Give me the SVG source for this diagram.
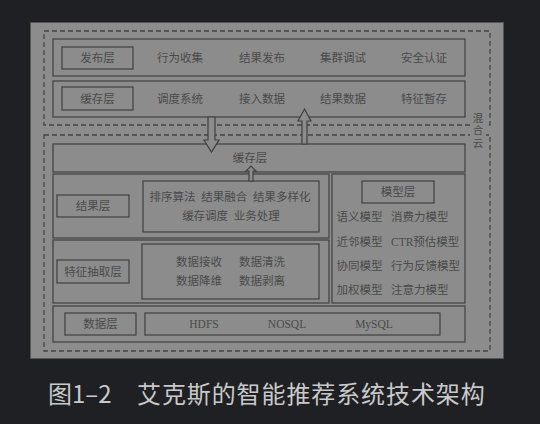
<svg xmlns="http://www.w3.org/2000/svg" width="540" height="424" viewBox="0 0 540 424">
<style>
.bg{fill:#1f2023}
.panel{fill:#8c8c8c;stroke:#555;stroke-width:1}
.box{fill:none;stroke:#464646;stroke-width:1.3}
.dash{fill:none;stroke:#444;stroke-width:1.3;stroke-dasharray:5,3}
.t{font-family:"Liberation Serif","Noto Sans CJK SC",serif;font-size:11.5px;fill:#4a4a4a;text-anchor:middle;dominant-baseline:central}
.ts{font-family:"Liberation Serif","Noto Sans CJK SC",serif;font-size:11.5px;fill:#4a4a4a;dominant-baseline:central}
.tv{font-family:"Liberation Serif","Noto Sans CJK SC",serif;font-size:10.5px;fill:#4a4a4a;text-anchor:middle;dominant-baseline:central}
.arrow{fill:#8c8c8c;stroke:#404040;stroke-width:1.2}
.cap{font-family:"Noto Sans CJK SC",sans-serif;font-size:24px;fill:#c9c9c9}
</style>
<rect class="bg" x="0" y="0" width="540" height="424"/>
<rect class="panel" x="30.5" y="22.5" width="473" height="336"/>

<g id="cloud-top"><rect class="dash" x="44" y="31" width="446" height="94"/></g>
<g id="cloud-bottom"><rect class="dash" x="44" y="135" width="446" height="216"/></g>
<g id="cloud-label">
<rect x="470" y="112" width="16" height="38" fill="#8c8c8c"/>
<text class="tv" x="478" y="118">混</text>
<text class="tv" x="478" y="130.5">合</text>
<text class="tv" x="478" y="143">云</text>
</g>

<g id="publish-layer">
<rect class="box" x="53" y="39" width="412" height="37"/>
<rect class="box" x="62" y="47" width="71" height="22"/>
<text class="t" x="97.5" y="58">发布层</text>
<text class="t" x="180" y="58">行为收集</text>
<text class="t" x="262" y="58">结果发布</text>
<text class="t" x="343" y="58">集群调试</text>
<text class="t" x="424" y="58">安全认证</text>
</g>

<g id="cache-layer-top">
<rect class="box" x="53" y="81" width="412" height="36"/>
<rect class="box" x="62" y="87" width="71" height="23"/>
<text class="t" x="97.5" y="98.5">缓存层</text>
<text class="t" x="180" y="98.5">调度系统</text>
<text class="t" x="262" y="98.5">接入数据</text>
<text class="t" x="343" y="98.5">结果数据</text>
<text class="t" x="424" y="98.5">特征暂存</text>
</g>

<g id="cache-layer">
<rect class="box" x="53" y="144" width="412" height="28"/>
<text class="t" x="250" y="158">缓存层</text>
</g>

<g id="result-layer">
<rect class="box" x="53" y="174" width="276" height="64"/>
<rect class="box" x="57" y="195" width="72" height="22"/>
<text class="t" x="93" y="206">结果层</text>
<rect class="box" x="143" y="181" width="176" height="51"/>
<text class="t" x="230" y="197" xml:space="preserve">排序算法  结果融合  结果多样化</text>
<text class="t" x="231" y="216" xml:space="preserve">缓存调度  业务处理</text>
</g>

<g id="feature-layer">
<rect class="box" x="53" y="240" width="276" height="63"/>
<rect class="box" x="57" y="260" width="72" height="23"/>
<text class="t" x="93" y="271.5">特征抽取层</text>
<rect class="box" x="142" y="244" width="177" height="55"/>
<text class="t" x="199" y="262">数据接收</text>
<text class="t" x="262" y="262">数据清洗</text>
<text class="t" x="199" y="281">数据降维</text>
<text class="t" x="262" y="281">数据剥离</text>
</g>

<g id="model-layer">
<rect class="box" x="332" y="174" width="133" height="129"/>
<rect class="box" x="362" y="181" width="72" height="22"/>
<text class="t" x="398" y="192">模型层</text>
<text class="t" x="359.5" y="217">语义模型</text>
<text class="ts" x="391" y="217">消费力模型</text>
<text class="t" x="359.5" y="242">近邻模型</text>
<text class="ts" x="391" y="242">CTR预估模型</text>
<text class="t" x="359.5" y="266">协同模型</text>
<text class="ts" x="391" y="266">行为反馈模型</text>
<text class="t" x="359.5" y="290">加权模型</text>
<text class="ts" x="391" y="290">注意力模型</text>
</g>

<g id="data-layer">
<rect class="box" x="53" y="306" width="412" height="36"/>
<rect class="box" x="65" y="313" width="71" height="22"/>
<text class="t" x="100.5" y="324">数据层</text>
<rect class="box" x="145" y="313" width="295" height="22"/>
<text class="t" x="204" y="324">HDFS</text>
<text class="t" x="287" y="324">NOSQL</text>
<text class="t" x="374" y="324">MySQL</text>
</g>

<g id="connectors">
<polygon class="arrow" points="208,117 215,117 215,140 219,140 211.5,152 204,140 208,140"/>
<polygon class="arrow" points="302,144 307,144 307,121 311,121 304.5,109 298,121 302,121"/>
<polygon class="arrow" points="249,181 253,181 253,171 256,171 251,166 246,171 249,171"/>
</g>

<g id="caption">
<text class="cap" x="48" y="403">图1–2</text>
<text class="cap" x="137" y="403" letter-spacing="0.9">艾克斯的智能推荐系统技术架构</text>
</g>
</svg>
